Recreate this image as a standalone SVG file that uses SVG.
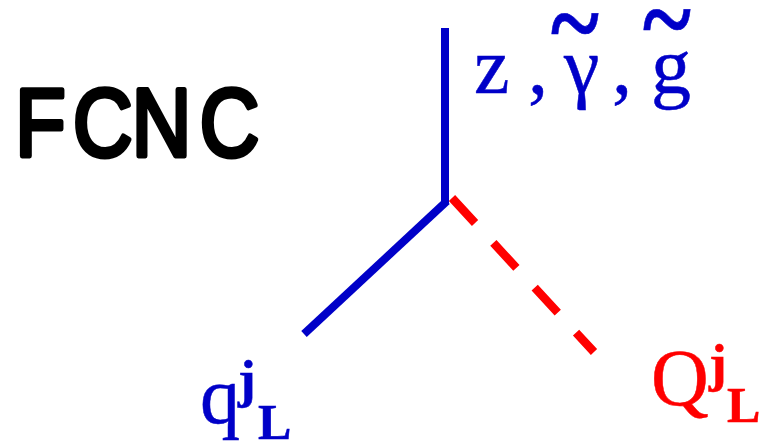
<svg xmlns="http://www.w3.org/2000/svg" width="765" height="442" viewBox="0 0 765 442">
<style>
.b{fill:#0000c8;stroke:#0000c8;stroke-width:.5px;font-family:"Liberation Serif",serif}
.r{fill:#ff0000;stroke:#ff0000;stroke-width:.5px;font-family:"Liberation Serif",serif}
.l{fill:none;stroke:#0000c8;stroke-width:8}
.t{font-size:80px}
.u{font-size:53px;font-weight:700}
.s{font-size:50px;font-weight:700}
.w{font-size:92px;font-weight:700}
</style>
<rect width="765" height="442" fill="#fff"/>
<g id="connectors">
<path class="l" d="M445 28V203"/>
<path class="l" d="M447 201L304 334"/>
<path d="M452 198L594 352" fill="none" stroke="#ff0000" stroke-width="8.500" stroke-dasharray="34 27"/>
</g>
<g id="fcnc"><text transform="scale(.85 1)" x="18 86 155 235" y="156" font-family="Liberation Sans,sans-serif" font-size="97" fill="#000" stroke="#000" stroke-width="5" stroke-linejoin="round">FCNC</text></g>
<g id="top-label">
<text class="b t" x="474" y="93">z</text>
<text class="b t" x="528" y="93">,</text>
<text class="b t" x="564" y="93">γ</text>
<text class="b t" x="612" y="93">,</text>
<text class="b t" x="651" y="93">g</text>
<text class="b w" transform="translate(551 60) scale(1 1.2)">~</text>
<text class="b w" transform="translate(643 56) scale(1 1.2)">~</text>
</g>
<g id="q-label">
<text class="b t" x="200" y="423">q</text>
<text class="b u" x="238" y="397">j</text>
<text class="b s" x="258" y="439">L</text>
</g>
<g id="Q-label">
<text class="r t" x="651" y="405">Q</text>
<text class="r u" x="709" y="381">j</text>
<text class="r s" x="727" y="422">L</text>
</g>
</svg>
